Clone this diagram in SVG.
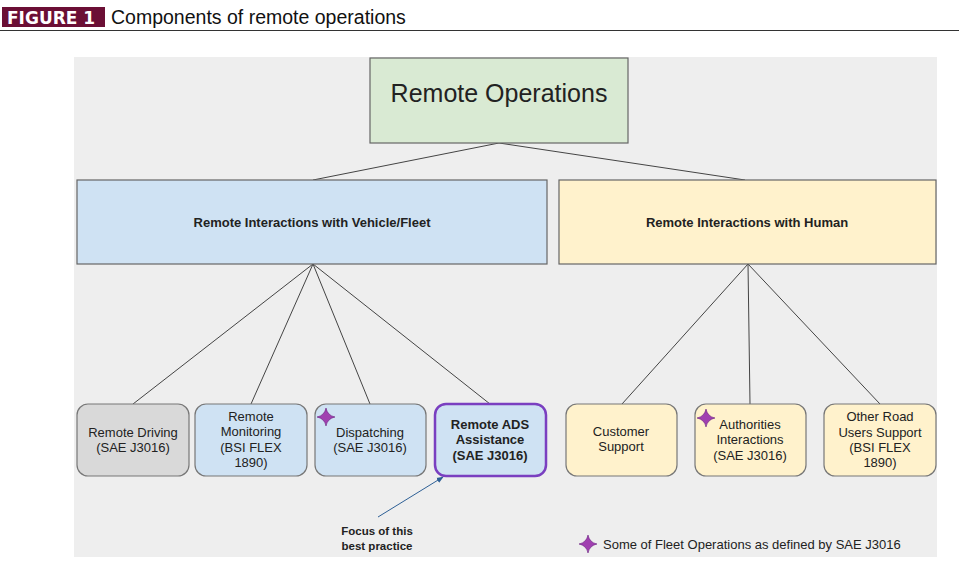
<svg xmlns="http://www.w3.org/2000/svg" width="959" height="564" viewBox="0 0 959 564">
<style>
text{font-family:"Liberation Sans",Arial,sans-serif;fill:#222}
.box{stroke:#666;stroke-width:1.2}
.leaf{stroke:#777;stroke-width:1.2}
.t{font-size:13px;text-anchor:middle}
.b{font-weight:bold}
.con line{stroke:#444;stroke-width:1}
.star{fill:#a040b0;stroke:#6a2080;stroke-width:0.6}
</style>
<defs>
<marker id="ah" viewBox="0 0 10 10" refX="9" refY="5" markerWidth="7" markerHeight="7" orient="auto"><path d="M0,1 L10,5 L0,9 z" fill="#2d5f95"/></marker>
<path id="st" d="M0,-9 Q1.5,-1.5 9,0 Q1.5,1.5 0,9 Q-1.5,1.5 -9,0 Q-1.5,-1.5 0,-9 z"/>
</defs>
<rect width="959" height="564" fill="#fff"/>
<g id="header">
<rect x="2" y="7" width="103" height="20" fill="#6b0f35"/>
<text x="7" y="23.5" style="font-family:'DejaVu Sans',sans-serif;font-weight:bold;font-size:17px;fill:#fff">FIGURE 1</text>
<text x="111" y="23.5" style="font-size:19.5px;fill:#111">Components of remote operations</text>
<line x1="0" y1="30.5" x2="959" y2="30.5" stroke="#333" stroke-width="1"/>
</g>
<rect x="74" y="57" width="863" height="500" fill="#eeeeee"/>
<g class="con">
<line x1="499" y1="143" x2="313" y2="180"/>
<line x1="499" y1="143" x2="745" y2="180"/>
<line x1="313" y1="264" x2="133" y2="404"/>
<line x1="313" y1="264" x2="251" y2="404"/>
<line x1="313" y1="264" x2="370" y2="404"/>
<line x1="313" y1="264" x2="490" y2="404"/>
<line x1="748" y1="264" x2="622" y2="404"/>
<line x1="748" y1="264" x2="750" y2="404"/>
<line x1="748" y1="264" x2="880" y2="404"/>
<line x1="378" y1="517" x2="443" y2="477" style="stroke:#2d5f95" marker-end="url(#ah)"/>
</g>
<g id="root">
<rect class="box" x="370" y="58" width="258" height="85" fill="#d9ead3"/>
<text x="499" y="102" style="font-size:25px;text-anchor:middle">Remote Operations</text>
</g>
<g id="vehicle">
<rect class="box" x="77" y="180" width="470" height="84" fill="#cfe2f3"/>
<text x="312" y="227" class="t b">Remote Interactions with Vehicle/Fleet</text>
</g>
<g id="human">
<rect class="box" x="559" y="180" width="377" height="84" fill="#fff2cc"/>
<text x="747" y="227" class="t b">Remote Interactions with Human</text>
</g>
<g id="driving">
<rect class="leaf" x="77" y="404" width="112" height="72" rx="11" fill="#d9d9d9"/>
<text class="t" x="133" y="437">Remote Driving</text>
<text class="t" x="133" y="452">(SAE J3016)</text>
</g>
<g id="monitoring">
<rect class="leaf" x="195" y="404" width="112" height="72" rx="11" fill="#cfe2f3"/>
<text class="t" x="251" y="421">Remote</text>
<text class="t" x="251" y="436">Monitoring</text>
<text class="t" x="251" y="452">(BSI FLEX</text>
<text class="t" x="251" y="467">1890)</text>
</g>
<g id="dispatching">
<rect class="leaf" x="315" y="404" width="111" height="72" rx="11" fill="#cfe2f3"/>
<use href="#st" class="star" transform="translate(326,417)"/>
<text class="t" x="370" y="437">Dispatching</text>
<text class="t" x="370" y="452">(SAE J3016)</text>
</g>
<g id="ads">
<rect x="435" y="404" width="111" height="72" rx="11" fill="#cfe2f3" stroke="#7a3fc0" stroke-width="2.5"/>
<text class="t b" x="490" y="429">Remote ADS</text>
<text class="t b" x="490" y="444">Assistance</text>
<text class="t b" x="490" y="460">(SAE J3016)</text>
</g>
<g id="customer">
<rect class="leaf" x="566" y="404" width="111" height="72" rx="11" fill="#fff2cc"/>
<text class="t" x="621" y="436">Customer</text>
<text class="t" x="621" y="451">Support</text>
</g>
<g id="authorities">
<rect class="leaf" x="695" y="404" width="111" height="72" rx="11" fill="#fff2cc"/>
<use href="#st" class="star" transform="translate(706,418)"/>
<text class="t" x="750" y="429">Authorities</text>
<text class="t" x="750" y="444">Interactions</text>
<text class="t" x="750" y="460">(SAE J3016)</text>
</g>
<g id="otherroad">
<rect class="leaf" x="824" y="404" width="112" height="72" rx="11" fill="#fff2cc"/>
<text class="t" x="880" y="421">Other Road</text>
<text class="t" x="880" y="437">Users Support</text>
<text class="t" x="880" y="452">(BSI FLEX</text>
<text class="t" x="880" y="467">1890)</text>
</g>
<g id="focus">
<text class="t b" x="377" y="535" style="font-size:11.5px">Focus of this</text>
<text class="t b" x="377" y="550" style="font-size:11.5px">best practice</text>
</g>
<g id="legend">
<use href="#st" class="star" transform="translate(588,544)"/>
<text x="603" y="549" style="font-size:13px">Some of Fleet Operations as defined by SAE J3016</text>
</g>
</svg>
